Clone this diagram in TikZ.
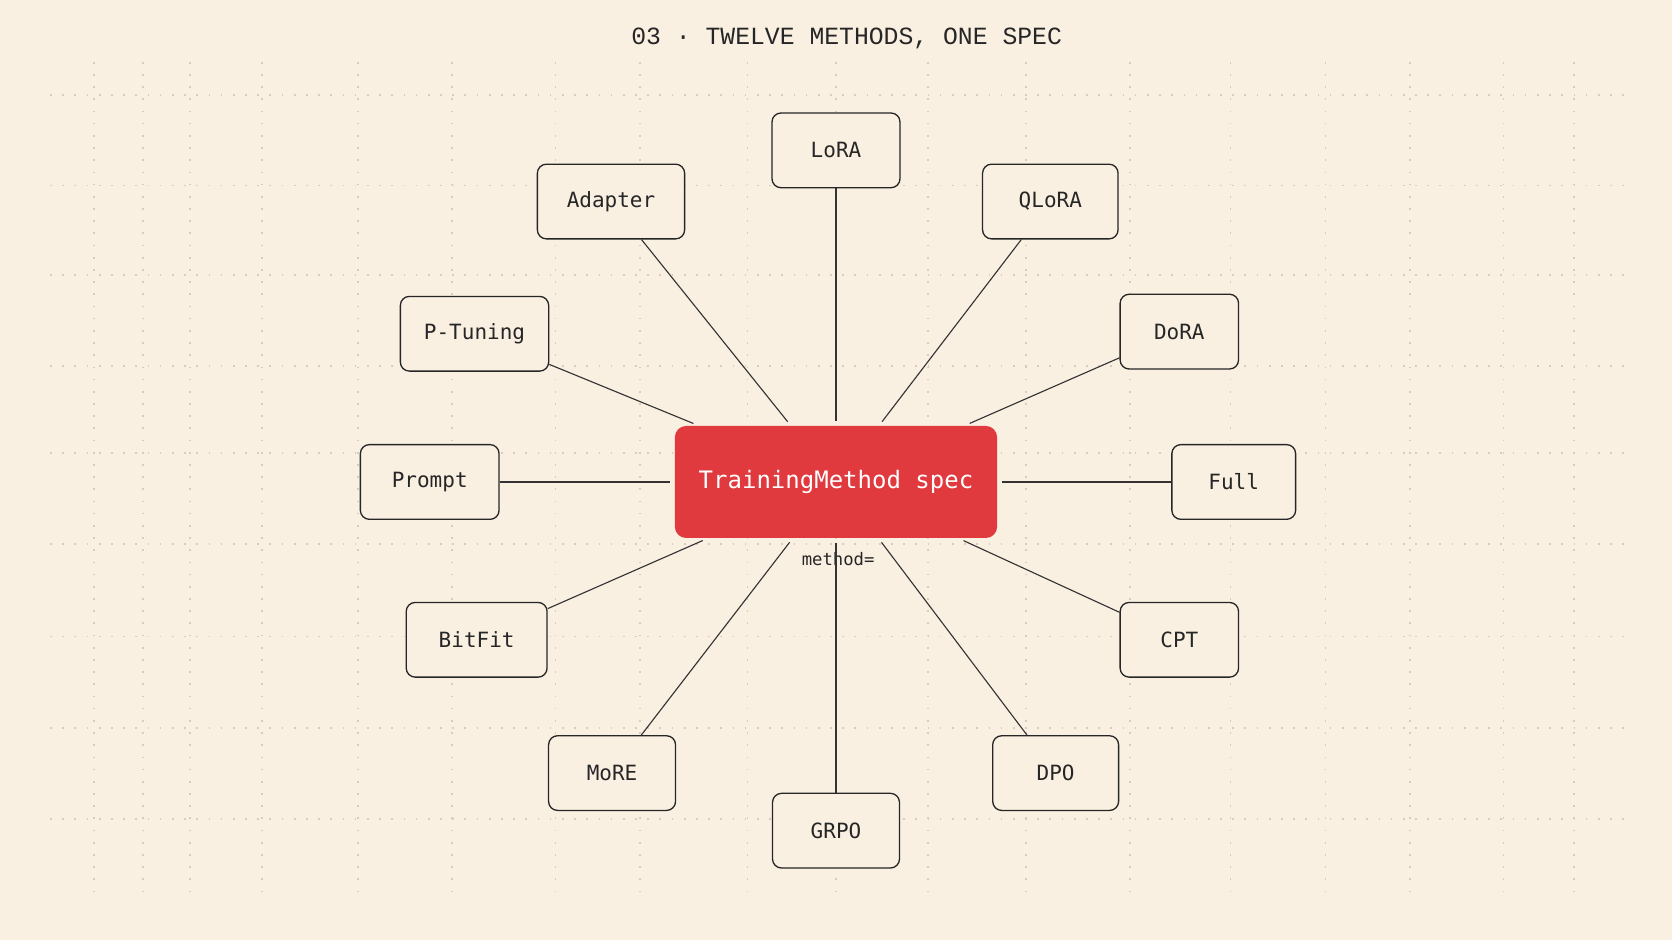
\documentclass[tikz,border=0pt]{standalone}
\usepackage{fontspec}
\setmainfont{DejaVu Sans Mono}
\newfontfamily\titlefont{Liberation Mono}
\usetikzlibrary{positioning}
\definecolor{paper}{HTML}{FAF0E2}
\definecolor{specred}{HTML}{E0393E}
\definecolor{griddot}{HTML}{D9CCBC}
\tikzset{
  method/.style={draw=black!85,rounded corners=2.4pt,line width=0.35pt,minimum height=0.7cm,
    fill=paper,font=\fontsize{5.6}{6}\selectfont,text=black!85},
  link/.style={line width=0.3pt,draw=black!80,shorten <=1.2pt},
}
\begin{document}
\begin{tikzpicture}[x=0.01cm,y=-0.01cm]
\fill[paper] (0,0) rectangle (1568,882);
\useasboundingbox (0,0) rectangle (1568,882);
% faint dotted grid
\foreach \y in {89,174,258,343,425,510,597,683,768}
  \draw[griddot,line width=0.45pt,dash pattern=on 0.45pt off 2.8pt] (47,\y) -- (1525,\y);
\foreach \x in {88,134,178,246,336,424,521,600,701,784,870,962,1060,1154,1243,1322,1410,1476}
  \draw[griddot,line width=0.45pt,dash pattern=on 0.45pt off 2.8pt] (\x,58) -- (\x,842);
\node[font=\titlefont\fontsize{6.6}{7}\selectfont,text=black!85] (title) at (794,36) {03 · TWELVE METHODS, ONE SPEC};
% centre
\node[fill=specred,rounded corners=3pt,minimum width=3.02cm,minimum height=1.05cm,
  text=white,font=\fontsize{6.4}{7}\selectfont] (spec) at (784,452) {TrainingMethod spec};
\node[font=\fontsize{4.6}{5}\selectfont,text=black!85] (eq) at (786,524) {method=};
% methods
\node[method,minimum width=1.2cm] (lora) at (784,141) {LoRA};
\node[method,minimum width=1.38cm] (adapter) at (573,189) {Adapter};
\node[method,minimum width=1.27cm] (qlora) at (985,189) {QLoRA};
\node[method,minimum width=1.39cm] (ptuning) at (445,313) {P-Tuning};
\node[method,minimum width=1.11cm] (dora) at (1106,311) {DoRA};
\node[method,minimum width=1.3cm] (prompt) at (403,452) {Prompt};
\node[method,minimum width=1.16cm] (full) at (1157,452) {Full};
\node[method,minimum width=1.32cm] (bitfit) at (447,600) {BitFit};
\node[method,minimum width=1.11cm] (cpt) at (1106,600) {CPT};
\node[method,minimum width=1.19cm] (more) at (574,725) {MoRE};
\node[method,minimum width=1.18cm] (dpo) at (990,725) {DPO};
\node[method,minimum width=1.19cm] (grpo) at (784,779) {GRPO};
% spokes
\foreach \n in {lora,adapter,qlora,ptuning,dora,prompt,full,bitfit,cpt,more,dpo,grpo}
  \draw[link] (spec) -- (\n);
\end{tikzpicture}
\end{document}
